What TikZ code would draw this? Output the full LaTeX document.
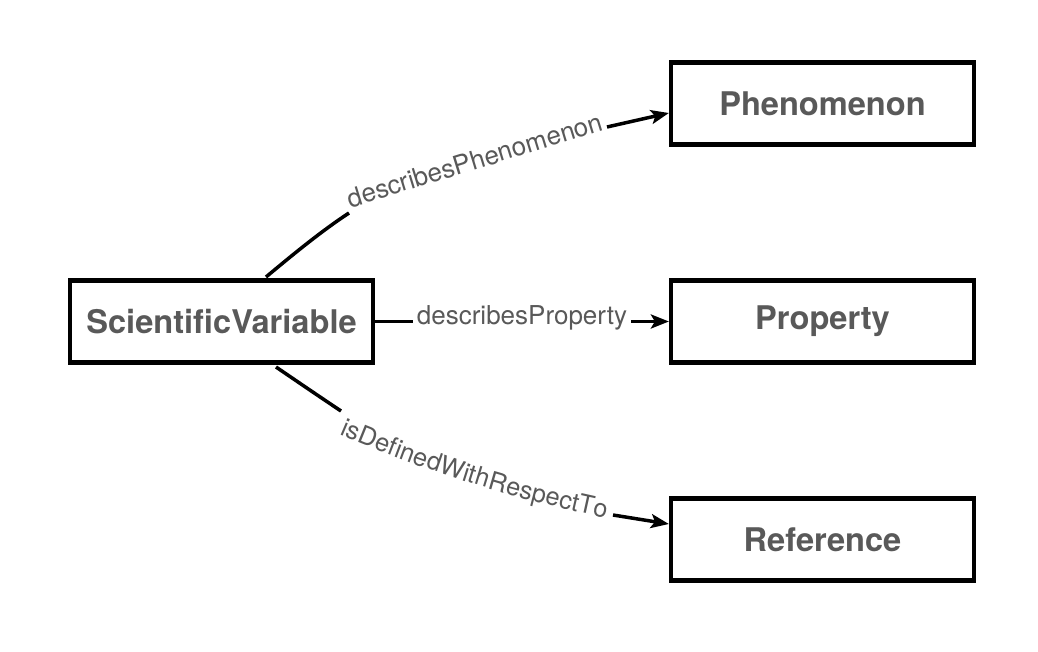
\documentclass[tikz,border=0pt]{standalone}
\usepackage{fontspec}
\setmainfont{TeX Gyre Heros}
\usetikzlibrary{arrows.meta,decorations.text}
\definecolor{txt}{HTML}{595959}
\tikzset{
  cls/.style={draw=black, line width=4.2pt, minimum width=303pt, minimum height=82pt, inner sep=0pt,
    font=\fontsize{32.6}{36}\selectfont\bfseries, text=txt},
  rel/.style={line width=3.5pt, -{Stealth[length=18pt,width=14pt,inset=4pt]}},
  lbl/.style={font=\fontsize{26}{30}\selectfont, text=txt, inner sep=0pt},
  lblbg/.style={lbl, fill=white, inner sep=4pt}
}
\begin{document}
\begin{tikzpicture}[x=1pt,y=-1pt]
\useasboundingbox (0,0) rectangle (1038,652);
\node[cls] (sv) at (221.5,321.5) {ScientificVariable};
\node[cls] (ph) at (822.5,103.5) {Phenomenon};
\node[cls] (pr) at (822.5,321.5) {Property};
\node[cls] (re) at (822.5,539.5) {Reference};
% top connector
\coordinate (svt) at (266,277);
\coordinate (g1) at (349,213);
\coordinate (g2) at (607,127);
\draw[rel] (svt) .. controls (290,257) and (320,232) .. (g1) (g2) -- (ph.west |- 0,113);
\node[lbl, rotate=17.1, anchor=base] (lphen) at (477.5,169) {describesPhenomenon};
% middle connector
\draw[rel] (sv.east) -- (pr.west) node[lblbg, midway, anchor=mid] (lprop) {describesProperty};
% bottom connector
\coordinate (svb) at (276,367);
\coordinate (h1) at (341,411);
\coordinate (h2) at (613,515);
\draw[rel] (svb) .. controls (298,382) and (320,397) .. (h1) (h2) -- (re.west |- 0,524);
\path[decorate, decoration={text along path, text align=center, text color=txt,
  text={|\fontsize{25.4}{30}\selectfont|isDefinedWithRespectTo}}]
  (322.4,427.0) .. controls (418.3,469.8) and (521.2,502.1) .. (624.4,521.6);
\end{tikzpicture}
\end{document}
